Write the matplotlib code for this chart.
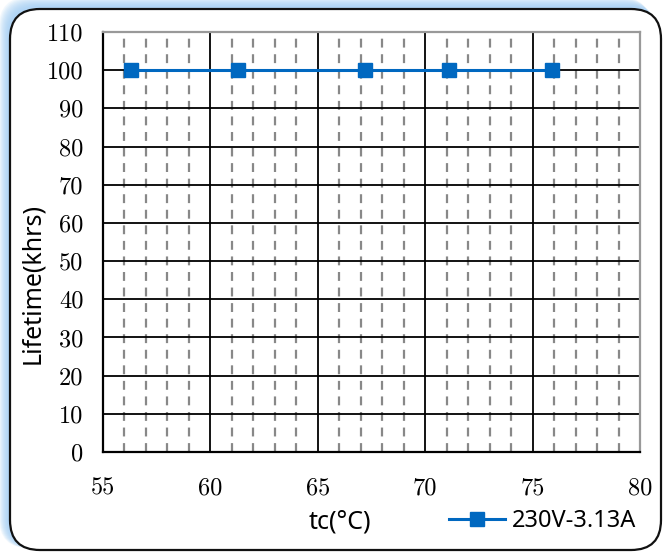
import matplotlib.pyplot as plt
from matplotlib.patches import FancyBboxPatch
from matplotlib.transforms import IdentityTransform

tc = [56.3, 61.3, 67.2, 71.1, 75.9]
lifetime = [100, 100, 100, 100, 100]
series_label = "230V-3.13A"
x_ticks = [55, 60, 65, 70, 75, 80]
y_ticks = list(range(0, 111, 10))
minor_x = [x for x in range(56, 80) if x % 5 != 0]

blue = "#0068C0"
W, H = 664, 552

fig = plt.figure(figsize=(W / 100, H / 100), dpi=100)
px = IdentityTransform()

# soft blue glow on the top/left, then the rounded frame
fx0, fy0, fw, fh = 10, 2, 651, 541
for k in range(10, 0, -1):
    glow = FancyBboxPatch((fx0 - k - 1, fy0 + 2), fw, fh + k, boxstyle="round,pad=0,rounding_size=30",
                          transform=px, facecolor="#9ccaf5", edgecolor="none",
                          alpha=0.13, zorder=-3)
    fig.patches.append(glow)
frame = FancyBboxPatch((fx0, fy0), fw, fh, boxstyle="round,pad=0,rounding_size=30",
                       transform=px, facecolor="white", edgecolor="#111111",
                       linewidth=1.6, zorder=-1)
fig.patches.append(frame)

ax = fig.add_axes([103 / W, 1 - 452 / H, 537 / W, 420 / H])
ax.set_facecolor("none")
ax.set_xlim(55, 80)
ax.set_ylim(0, 110)

for x in minor_x:
    ax.axvline(x, color="#888888", linestyle=(0, (4, 3)), linewidth=1.6, zorder=1)
for x in x_ticks[1:-1]:
    ax.axvline(x, color="black", linewidth=1.3, zorder=1)
for y in y_ticks[1:-1]:
    ax.axhline(y, color="black", linewidth=1.3, zorder=1)

ax.plot(tc, lifetime, color=blue, linewidth=2.2, marker="s", markersize=10,
        label=series_label, zorder=3)

ax.set_xticks(x_ticks)
ax.set_yticks(y_ticks)
ax.tick_params(length=0, labelsize=17.5, labelfontfamily="cmr10")
ax.tick_params(axis="x", pad=18)
ax.tick_params(axis="y", pad=14)

for side in ["left", "bottom"]:
    ax.spines[side].set_color("black")
    ax.spines[side].set_linewidth(1.6)
for side in ["top", "right"]:
    ax.spines[side].set_color("#999999")
    ax.spines[side].set_linewidth(1.6)

fig.text(340 / W, 1 - 522 / H, "tc(°C)", ha="center", va="center",
         fontsize=18, fontfamily="Noto Sans")
fig.text(33 / W, 1 - 284 / H, "Lifetime(khrs)", ha="center", va="center",
         rotation=90, fontsize=18, fontfamily="Noto Sans")

ax.legend(loc="center left", bbox_to_anchor=(428 / W, 1 - 521 / H),
          bbox_transform=fig.transFigure, frameon=False,
          prop={"family": "Noto Sans", "size": 17}, handlelength=2.35,
          handletextpad=0.3)

fig.savefig("out.png", dpi=100)
